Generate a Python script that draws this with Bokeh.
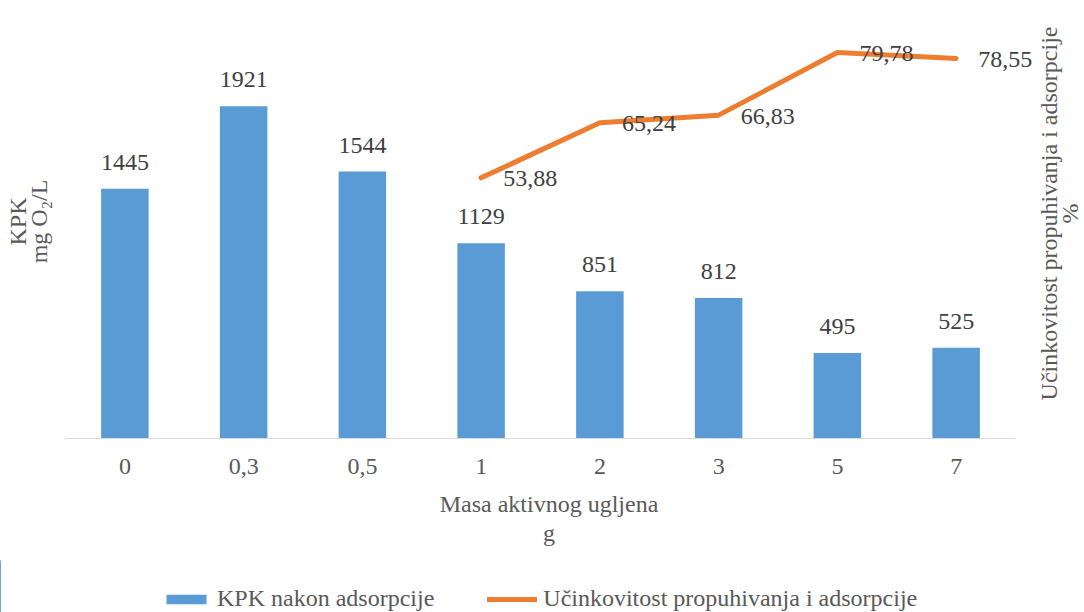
from bokeh.plotting import figure
from bokeh.models import (ColumnDataSource, Range1d, FixedTicker, LabelSet, Legend, LegendItem)
from bokeh.layouts import column, row
from bokeh.embed import file_html
from bokeh.resources import INLINE
import math

# ---- data ----
categories = ["0", "0,3", "0,5", "1", "2", "3", "5", "7"]
kpk_values = [1445, 1921, 1544, 1129, 851, 812, 495, 525]
efficiency = [math.nan, math.nan, math.nan, 53.88, 65.24, 66.83, 79.78, 78.55]

x_title = "Masa aktivnog ugljena\ng"
left_title = "KPK\nmg O\u2082/L"
right_title = "U\u010dinkovitost propuhivanja i adsorpcije\n%"
bar_name = "KPK nakon adsorpcije"
line_name = "U\u010dinkovitost propuhivanja i adsorpcije"

FONT = "Liberation Serif"
TXT = "#595959"
LBL = "#404040"
BLUE = "#5B9BD5"
ORANGE = "#ED7D31"
FS = "24px"

idx = list(range(len(categories)))
bar_src = ColumnDataSource(dict(x=idx, top=kpk_values, label=[str(v) for v in kpk_values]))
line_src = ColumnDataSource(dict(x=idx, y=efficiency))
lab_x = [i for i, v in zip(idx, efficiency) if not math.isnan(v)]
lab_v = [v for v in efficiency if not math.isnan(v)]
line_lab_src = ColumnDataSource(dict(x=lab_x, y=lab_v,
                                     label=[f"{v:.2f}".replace(".", ",") for v in lab_v]))

def hide_axis(ax):
    ax.ticker = FixedTicker(ticks=[])
    ax.axis_line_color = None
    ax.major_tick_line_color = None
    ax.minor_tick_line_color = None
    ax.major_tick_out = 0
    ax.major_label_standoff = 0

def title_style(ax, line_height):
    ax.axis_label_text_font = FONT
    ax.axis_label_text_font_size = FS
    ax.axis_label_text_font_style = "normal"
    ax.axis_label_text_color = TXT
    ax.axis_label_text_line_height = line_height

# ---- main chart ----
# frame: 950px for the 8 categories plus 17px room on the right for the last label
x_end = len(categories) - 0.5 + 17 / (950 / len(categories))
p = figure(width=1032, height=560, x_range=Range1d(-0.5, x_end),
           y_range=Range1d(0, 2510), output_backend="svg", toolbar_location=None,
           min_border_left=65, min_border_right=0, min_border_top=4, min_border_bottom=122)
p.extra_y_ranges = {"pct": Range1d(0, 89.7)}
p.outline_line_color = None
p.xgrid.visible = False
p.ygrid.visible = False

bars = p.vbar(x="x", top="top", width=0.4, source=bar_src, fill_color=BLUE, line_color=None)
ln = p.line(x="x", y="y", source=line_src, y_range_name="pct", line_color=ORANGE,
            line_width=5, line_cap="round", line_join="round")

p.add_layout(LabelSet(x="x", y="top", text="label", source=bar_src, text_align="center",
                      text_baseline="bottom", y_offset=19, text_font=FONT,
                      text_font_size=FS, text_color=LBL))
p.add_layout(LabelSet(x="x", y="y", text="label", source=line_lab_src, y_range_name="pct",
                      text_align="left", text_baseline="middle", x_offset=22, y_offset=-1,
                      text_font=FONT, text_font_size=FS, text_color=LBL))

xa = p.xaxis[0]
xa.ticker = FixedTicker(ticks=idx)
xa.major_label_overrides = {i: c for i, c in zip(idx, categories)}
xa.bounds = (-0.5, len(categories) - 0.5)
xa.axis_line_color = "#d9d9d9"
xa.major_tick_line_color = None
xa.minor_tick_line_color = None
xa.major_tick_out = 0
xa.major_label_text_font = FONT
xa.major_label_text_font_size = FS
xa.major_label_text_color = TXT
xa.major_label_standoff = 20
xa.axis_label = x_title
title_style(xa, 1.15)
xa.axis_label_standoff = 14

ya = p.yaxis[0]
hide_axis(ya)
ya.axis_label = left_title
title_style(ya, 0.8)
ya.axis_label_standoff = 14

# ---- right-hand title (reads bottom to top, like the reference) ----
pr = figure(frame_width=2, frame_height=418, output_backend="svg", toolbar_location=None,
            x_range=Range1d(0, 1), y_range=Range1d(0, 1),
            min_border_left=50, min_border_right=0, min_border_top=0, min_border_bottom=0)
pr.outline_line_color = None
pr.xgrid.visible = False
pr.ygrid.visible = False
pr.xaxis.visible = False
hide_axis(pr.yaxis[0])
pr.yaxis[0].axis_label = right_title
title_style(pr.yaxis[0], 0.8)
pr.yaxis[0].axis_label_standoff = 1

# ---- legend strip: reuses the chart's sources, with an x window far from the data ----
pl = figure(width=1084, height=52, output_backend="svg", toolbar_location=None,
            x_range=Range1d(1000, 1001), y_range=Range1d(0, 1),
            min_border_left=0, min_border_right=0, min_border_top=0, min_border_bottom=0)
pl.outline_line_color = None
pl.xgrid.visible = False
pl.ygrid.visible = False
pl.xaxis.visible = False
pl.yaxis.visible = False
lb = pl.vbar(x="x", top="top", width=0.4, source=bar_src, fill_color=BLUE, line_color=None)
ll = pl.line(x="x", y="y", source=line_src, line_color=ORANGE, line_width=5, line_cap="round")
legend = Legend(items=[LegendItem(label=bar_name, renderers=[lb]),
                       LegendItem(label=line_name, renderers=[ll])],
                orientation="horizontal", location=(161, 0),
                label_text_font=FONT, label_text_font_size=FS, label_text_color=TXT,
                glyph_width=50, glyph_height=12, label_standoff=6, spacing=53,
                border_line_color=None, background_fill_alpha=0, padding=2, margin=0)
pl.add_layout(legend)

layout = column(row(p, pr), pl)
open("out.html", "w").write(file_html(layout, INLINE))
